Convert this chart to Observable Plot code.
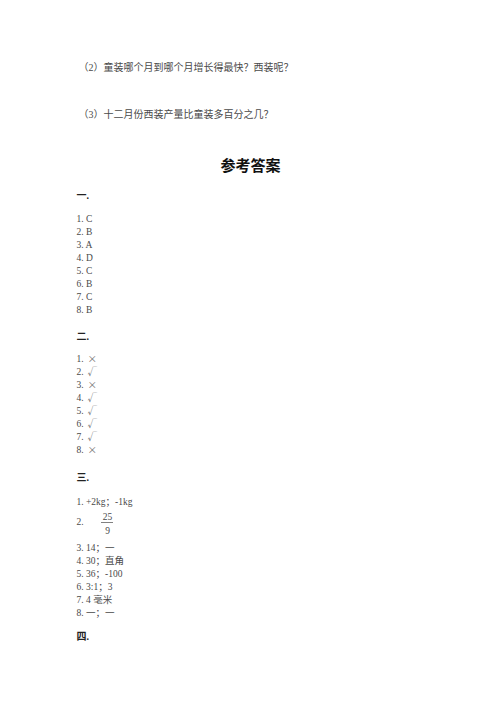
<!DOCTYPE html>
<html>
<head>
<meta charset="utf-8">
<script src="https://cdn.jsdelivr.net/npm/d3@7"></script>
<script src="https://cdn.jsdelivr.net/npm/@observablehq/plot@0.6"></script>
<style>
  html, body { margin: 0; padding: 0; background: #fff; }
</style>
</head>
<body>
<div id="chart"></div>
<script>
const questions = ["（2）童装哪个月到哪个月增长得最快？西装呢？", "（3）十二月份西装产量比童装多百分之几？"];
const title = "参考答案";
const sections = ["一.", "二.", "三.", "四."];
const answers1 = ["C", "B", "A", "D", "C", "B", "C", "B"];
const answers2 = ["×", "√", "×", "√", "√", "√", "√", "×"];
const answers3 = ["+2kg；-1kg", "", "14；一", "30；直角", "36；-100", "3:1；3", "4 毫米", "一；一"];
const fraction = {num: "25", den: "9"};

const font = "'Liberation Serif', 'DejaVu Serif', 'Noto Sans CJK SC', serif";
const cjkFont = "'Noto Sans CJK SC', 'Liberation Serif', serif";
const gray = "#4a4a4a";
const left = 76, step = 13;

const qRows = questions.map((t, i) => ({t, x: 78, y: 67 + i * 47}));
const secY = [195, 336, 477, 636];
const secRows = sections.map((t, i) => ({t, x: left, y: secY[i]}));
const rows1 = answers1.map((a, i) => ({t: `${i + 1}. ${a}`, x: left, y: 218 + i * step}));
const nums2 = answers2.map((a, i) => ({t: `${i + 1}.`, x: left, y: 358 + i * step}));
const marks2 = answers2.map((a, i) => ({t: a, x: left + 11, y: 358 + i * step}));
const y3 = i => i === 0 ? 501 : i === 1 ? 521 : 547 + (i - 2) * step;
const rows3 = answers3.map((a, i) => ({t: a ? `${i + 1}. ${a}` : `${i + 1}.`, x: left, y: y3(i)}));
const fracRows = [{t: fraction.num, x: 107, y: 516}, {t: fraction.den, x: 107, y: 530}];

const plot = Plot.plot({
  width: 500,
  height: 707,
  margin: 0,
  x: {domain: [0, 500], range: [0, 500], axis: null},
  y: {domain: [0, 707], range: [0, 707], axis: null},
  style: {background: "#fff"},
  marks: [
    Plot.text(qRows, {x: "x", y: "y", text: "t", textAnchor: "start", fontSize: 10, fill: gray, fontFamily: font}),
    Plot.text([title], {x: () => 250, y: () => 166, text: d => d, textAnchor: "middle", fontSize: 15, fontWeight: "bold", fill: "#111", fontFamily: font}),
    Plot.text(secRows, {x: "x", y: "y", text: "t", textAnchor: "start", fontSize: 10, fontWeight: "bold", fill: "#222", fontFamily: font}),
    Plot.text(rows1, {x: "x", y: "y", text: "t", textAnchor: "start", fontSize: 9.5, fill: gray, fontFamily: font}),
    Plot.text(nums2, {x: "x", y: "y", text: "t", textAnchor: "start", fontSize: 9.5, fill: gray, fontFamily: font}),
    Plot.text(marks2, {x: "x", y: "y", text: "t", textAnchor: "start", fontSize: 9.5, fill: "#777", fontFamily: cjkFont}),
    Plot.text(rows3, {x: "x", y: "y", text: "t", textAnchor: "start", fontSize: 9.5, fill: gray, fontFamily: font}),
    Plot.text(fracRows, {x: "x", y: "y", text: "t", textAnchor: "middle", fontSize: 9.5, fill: gray, fontFamily: font}),
    Plot.ruleY([522], {x1: 101, x2: 113, stroke: gray, strokeWidth: 0.7})
  ]
});
document.getElementById("chart").appendChild(plot);
</script>
</body>
</html>
